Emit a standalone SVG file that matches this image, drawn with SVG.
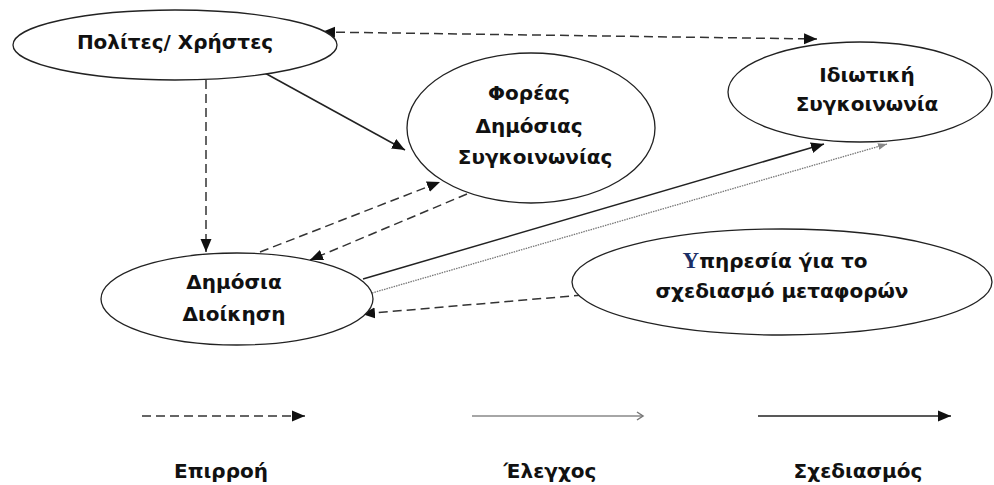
<svg xmlns="http://www.w3.org/2000/svg" width="994" height="485" viewBox="0 0 994 485">
<style>
.node ellipse{fill:#fff;stroke:#222;stroke-width:1.3}
.t{font-family:"DejaVu Sans","Liberation Sans",sans-serif;font-weight:bold;font-size:20px;fill:#111;text-anchor:middle}
.dash{fill:none;stroke:#333;stroke-width:1.5;stroke-dasharray:9 5}
.solid{fill:none;stroke:#222;stroke-width:1.5}
.dot{fill:none;stroke:#777;stroke-width:1.3;stroke-dasharray:1.5 1}
</style>
<defs>
<marker id="ah" markerUnits="userSpaceOnUse" markerWidth="14" markerHeight="12" refX="13" refY="6" orient="auto-start-reverse">
<path d="M0,0.5 L13,6 L0,11.5 Z" fill="#111"/>
</marker>
<marker id="ahs" markerUnits="userSpaceOnUse" markerWidth="10" markerHeight="8" refX="9" refY="4" orient="auto">
<path d="M0,0.5 L9,4 L0,7.5 Z" fill="#888"/>
</marker>
<marker id="chev" markerUnits="userSpaceOnUse" markerWidth="10" markerHeight="10" refX="8" refY="5" orient="auto">
<path d="M2,1 L8,5 L2,9" fill="none" stroke="#777" stroke-width="1.5"/>
</marker>
</defs>
<rect width="994" height="485" fill="#fff"/>
<g id="connectors">
<path class="dash" d="M322,32 L817,39" marker-start="url(#ah)" marker-end="url(#ah)"/>
<path class="solid" d="M263,72 L405,150" marker-end="url(#ah)"/>
<path class="dash" d="M206,80 L206,252" marker-end="url(#ah)"/>
<path class="dash" d="M260,252 L440,182" marker-end="url(#ah)"/>
<path class="dash" d="M467,194 L310,260" marker-end="url(#ah)"/>
<path class="solid" d="M363,279 L824,144" marker-end="url(#ah)"/>
<path class="dot" d="M372,293 L887,144" marker-end="url(#ahs)"/>
<path class="dash" d="M583,295 L362,314" marker-end="url(#ah)"/>
</g>
<g id="n-polites" class="node">
<ellipse cx="175" cy="45" rx="162" ry="35"/>
<text class="t" x="175" y="49">Πολίτες/ Χρήστες</text>
</g>
<g id="n-foreas" class="node">
<ellipse cx="531" cy="128" rx="124" ry="75"/>
<text class="t" x="529" y="100">Φορέας</text>
<text class="t" x="529" y="133">Δημόσιας</text>
<text class="t" x="535" y="164">Συγκοινωνίας</text>
</g>
<g id="n-idiotiki" class="node">
<ellipse cx="860" cy="92" rx="132" ry="50"/>
<text class="t" x="867" y="82">Ιδιωτική</text>
<text class="t" x="867" y="111">Συγκοινωνία</text>
</g>
<g id="n-dimosia" class="node">
<ellipse cx="237" cy="299" rx="136" ry="46"/>
<text class="t" x="234" y="289">Δημόσια</text>
<text class="t" x="234" y="321">Διοίκηση</text>
</g>
<g id="n-ypiresia" class="node">
<ellipse cx="782" cy="282" rx="210" ry="53"/>
<text class="t" x="775" y="268"><tspan font-family="Liberation Serif,serif" font-size="23px" fill="#1b2f66">Υ</tspan>πηρεσία γ́ια το</text>
<text class="t" x="782" y="298">σχεδιασμό μεταφορών</text>
</g>
<g id="legend">
<path class="dash" d="M142,416 L305,416" marker-end="url(#ah)"/>
<path d="M472,416 L643,416" fill="none" stroke="#888" stroke-width="1.5" marker-end="url(#chev)"/>
<path class="solid" d="M758,416 L951,416" stroke-width="2" marker-end="url(#ah)"/>
<text class="t" x="221" y="478">Επιρροή</text>
<text class="t" x="550" y="478" font-weight="normal">Έλεγχος</text>
<text class="t" x="858" y="478">Σχεδιασμός</text>
</g>
</svg>
